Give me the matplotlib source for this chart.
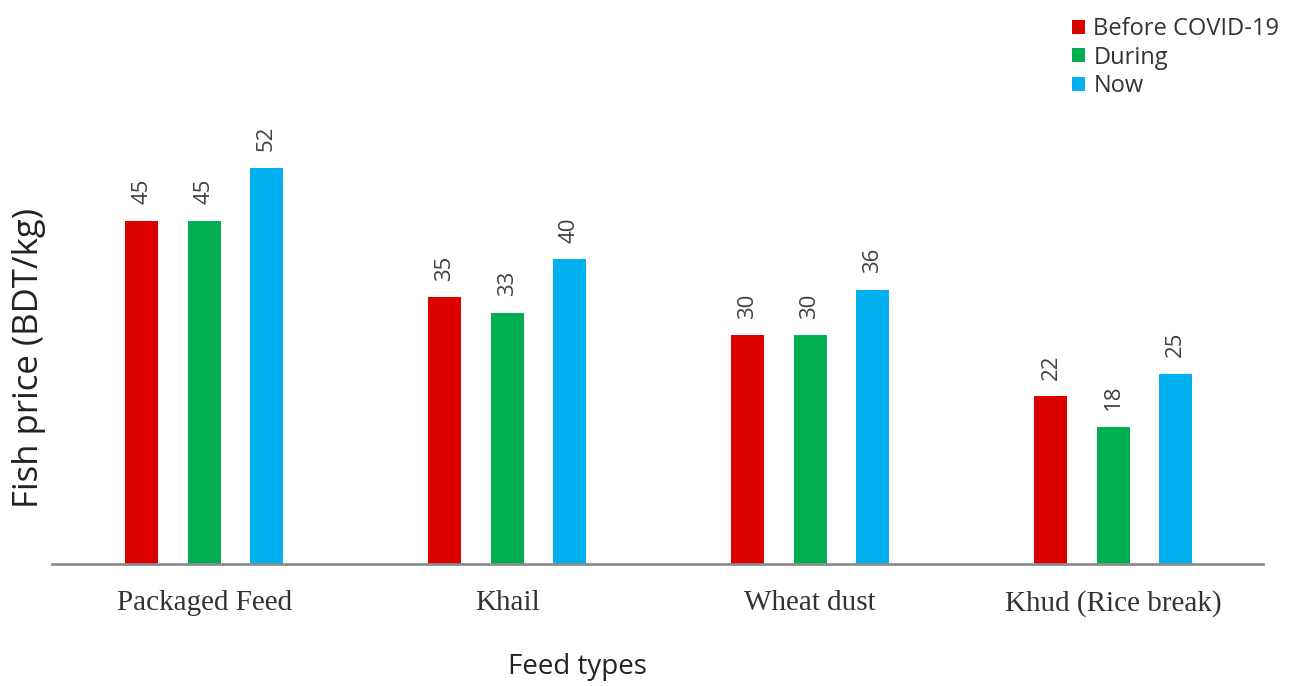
import matplotlib
matplotlib.use("Agg")
import matplotlib.pyplot as plt
import numpy as np
from matplotlib.patches import Patch

categories = ["Packaged Feed", "Khail", "Wheat dust", "Khud (Rice break)"]
series_names = ["Before COVID-19", "During", "Now"]
before = [45, 35, 30, 22]
during = [45, 33, 30, 18]
now = [52, 40, 36, 25]
colors = ["#DD0000", "#00B050", "#00B0F0"]

fig = plt.figure(figsize=(12.97, 6.86), dpi=100)
ax = fig.add_axes([52/1297, 122/686, 1211/1297, 464/686])

x = np.arange(len(categories))
offset = 0.205
width = 0.109
for i, (vals, c) in enumerate(zip([before, during, now], colors)):
    xs = x + (i - 1) * offset
    ax.bar(xs, vals, width=width, color=c, zorder=2)
    for xi, v in zip(xs, vals):
        ax.annotate(str(v), (xi, v), xytext=(0, 12), textcoords="offset points",
                    rotation=90, ha="center", va="bottom", fontsize=16,
                    color="#404040", family="Open Sans")

ax.set_xlim(-0.502, 3.495)
ax.set_ylim(0, 60.9)
for s in ["top", "right", "left"]:
    ax.spines[s].set_visible(False)
ax.spines["bottom"].set_color("#8c8c8c")
ax.spines["bottom"].set_linewidth(2)
ax.set_yticks([])
ax.set_xticks(x)
ax.set_xticklabels(categories, family="Liberation Serif", fontsize=21, color="#333333")
ax.tick_params(axis="x", length=0, pad=19)

fig.text(577/1297, 1 - 667/686, "Feed types", ha="center", va="center",
         fontsize=20, family="Open Sans", color="#222222")
fig.text(29/1297, 1 - 358/686, "Fish price (BDT/kg)", ha="center", va="center",
         rotation=90, fontsize=25, family="Open Sans", color="#222222")

handles = [Patch(facecolor=c, edgecolor="none") for c in colors]
leg = fig.legend(handles, series_names, loc="upper left",
                 bbox_to_anchor=(1072/1297, 1 - 17/686), frameon=False,
                 prop={"family": "Open Sans", "size": 17},
                 handlelength=0.55, handleheight=0.55, handletextpad=0.35,
                 labelspacing=0.2, borderpad=0, borderaxespad=0)
for t in leg.get_texts():
    t.set_color("#333333")

fig.savefig("out.png", dpi=100)
